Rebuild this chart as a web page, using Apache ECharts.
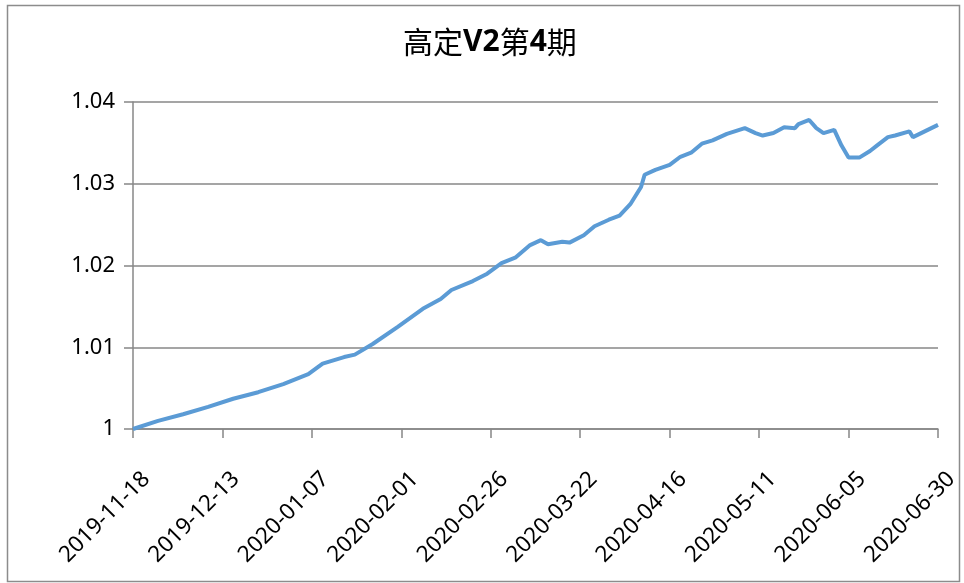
<!DOCTYPE html>
<html>
<head>
<meta charset="utf-8">
<script src="https://cdn.jsdelivr.net/npm/echarts@6/dist/echarts.min.js"></script>
<style>
  html, body { margin: 0; padding: 0; background: #fff; }
  #chart { width: 964px; height: 583px; }
</style>
</head>
<body>
<div id="chart"></div>
<script>
// net value of the product
var dates = [
  '2019-11-18', '2019-11-25', '2019-12-02', '2019-12-09', '2019-12-16', '2019-12-23',
  '2019-12-30', '2020-01-06', '2020-01-10', '2020-01-16', '2020-01-19', '2020-01-24',
  '2020-01-31', '2020-02-07', '2020-02-12', '2020-02-15', '2020-02-21', '2020-02-25',
  '2020-02-29', '2020-03-04', '2020-03-08', '2020-03-11', '2020-03-13', '2020-03-17',
  '2020-03-19', '2020-03-23', '2020-03-26', '2020-03-30', '2020-04-02', '2020-04-05',
  '2020-04-08', '2020-04-09', '2020-04-12', '2020-04-16', '2020-04-19', '2020-04-22',
  '2020-04-25', '2020-04-28', '2020-05-02', '2020-05-07', '2020-05-10', '2020-05-12',
  '2020-05-15', '2020-05-18', '2020-05-21', '2020-05-22', '2020-05-25', '2020-05-27',
  '2020-05-29', '2020-06-01', '2020-06-03', '2020-06-05', '2020-06-08', '2020-06-11',
  '2020-06-13', '2020-06-16', '2020-06-18', '2020-06-22', '2020-06-23', '2020-06-30'
];
var navValues = [
  1.0000, 1.0010, 1.0018, 1.0027, 1.0037, 1.0045,
  1.0055, 1.0067, 1.0080, 1.0088, 1.0091, 1.0104,
  1.0125, 1.0147, 1.0159, 1.0170, 1.0181, 1.0190,
  1.0203, 1.0210, 1.0225, 1.0231, 1.0226, 1.0229,
  1.0228, 1.0237, 1.0248, 1.0256, 1.0261, 1.0275,
  1.0296, 1.0311, 1.0317, 1.0323, 1.0333, 1.0338,
  1.0349, 1.0353, 1.0361, 1.0368, 1.0362, 1.0359,
  1.0362, 1.0369, 1.0368, 1.0373, 1.0378, 1.0368,
  1.0362, 1.0366, 1.0347, 1.0332, 1.0332, 1.0340,
  1.0347, 1.0357, 1.0359, 1.0364, 1.0357, 1.0372
];
var startDate = '2019-11-18';
var endDate = '2020-06-30';
var labelStep = 25; // days between x labels
var yTicks = [1, 1.01, 1.02, 1.03, 1.04];

var DAY = 86400000;
function toDay(s) {
  var p = s.split('-');
  return Date.UTC(+p[0], +p[1] - 1, +p[2]);
}
function dayIndex(s) {
  return Math.round((toDay(s) - toDay(startDate)) / DAY);
}
function dayLabel(n) {
  var d = new Date(toDay(startDate) + n * DAY);
  var m = d.getUTCMonth() + 1, dd = d.getUTCDate();
  return d.getUTCFullYear() + '-' + (m < 10 ? '0' + m : m) + '-' + (dd < 10 ? '0' + dd : dd);
}

var lineData = dates.map(function (d, i) {
  return [dayIndex(d), navValues[i]];
});

var chart = echarts.init(document.getElementById('chart'));

var option = {
  backgroundColor: '#fff',
  animation: false,
  title: {
    text: '高定{b|V2}第{b|4}期',
    left: 398,
    top: 22,
    textStyle: {
      fontFamily: 'Noto Sans CJK SC',
      fontSize: 30,
      fontWeight: 'normal',
      color: '#000',
      rich: {
        b: {
          fontFamily: 'Noto Sans',
          fontSize: 30,
          fontWeight: 'bold',
          color: '#000'
        }
      }
    }
  },
  graphic: [{
    type: 'rect',
    shape: { x: 7.5, y: 5.5, width: 952, height: 576 },
    style: { fill: null, stroke: '#8c8c8c', lineWidth: 1.5 },
    silent: true
  }],
  grid: {
    left: 133,
    right: 26,
    top: 102,
    bottom: 154,
    outerBoundsMode: 'none'
  },
  xAxis: {
    type: 'value',
    min: 0,
    max: dayIndex(endDate),
    interval: labelStep,
    splitLine: { show: false },
    axisLine: { show: true, lineStyle: { color: '#878787', width: 1.5 } },
    axisTick: { show: true, length: 9, lineStyle: { color: '#878787', width: 1.5 } },
    axisLabel: {
      rotate: 45,
      margin: 60,
      padding: [0, -19, 0, 0],
      color: '#000',
      fontFamily: 'Noto Sans',
      fontSize: 22.5,
      formatter: function (v) { return dayLabel(v); }
    }
  },
  yAxis: {
    type: 'value',
    min: yTicks[0],
    max: yTicks[yTicks.length - 1],
    interval: 0.01,
    axisLine: { show: true, lineStyle: { color: '#878787', width: 1.5 } },
    axisTick: { show: true, length: 9, lineStyle: { color: '#878787', width: 1.5 } },
    splitLine: { show: true, lineStyle: { color: '#878787', width: 1.5 } },
    axisLabel: {
      margin: 18,
      color: '#000',
      fontFamily: 'Noto Sans',
      fontSize: 22,
      formatter: function (v) {
        var r = Math.round(v * 100) / 100;
        return r === 1 ? '1' : r.toFixed(2);
      }
    }
  },
  series: [{
    name: '高定V2第4期',
    type: 'line',
    data: lineData,
    showSymbol: false,
    smooth: false,
    lineStyle: { color: '#5b9bd5', width: 4 },
    itemStyle: { color: '#5b9bd5' }
  }]
};

chart.setOption(option);
</script>
</body>
</html>
